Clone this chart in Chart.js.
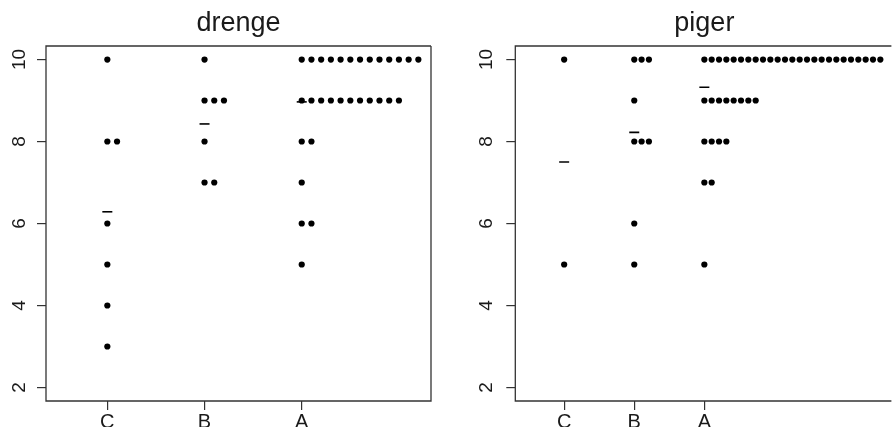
<!DOCTYPE html>
<html>
<head>
<meta charset="utf-8">
<script src="https://cdn.jsdelivr.net/npm/chart.js@4/dist/chart.umd.min.js"></script>
<style>
  html, body { margin: 0; padding: 0; background: #fff; overflow: hidden; width: 893px; height: 427px; }
  canvas { position: absolute; top: 0; }
  #c1 { left: 0; }
  #c2 { left: 450px; }
</style>
</head>
<body>
<canvas id="c1" width="450" height="427"></canvas>
<canvas id="c2" width="443" height="427"></canvas>
<script>
// ---- data ----
const categories = ['C', 'B', 'A'];
const yTicks = [2, 4, 6, 8, 10];
const panelTitles = ['drenge', 'piger'];

const drengeC = [10, 8, 8, 6, 5, 4, 3];
const drengeB = [10, 9, 9, 9, 8, 7, 7];
const drengeA = [10, 10, 10, 10, 10, 10, 10, 10, 10, 10, 10, 10, 10,
                 9, 9, 9, 9, 9, 9, 9, 9, 9, 9, 9,
                 8, 8, 7, 6, 6, 5];

const pigerC = [10, 5];
const pigerB = [10, 10, 10, 9, 8, 8, 8, 6, 5];
const pigerA = [10, 10, 10, 10, 10, 10, 10, 10, 10, 10, 10, 10, 10, 10, 10, 10, 10, 10, 10, 10, 10, 10, 10, 10, 10,
                9, 9, 9, 9, 9, 9, 9, 9,
                8, 8, 8, 8, 7, 7, 5];

// ---- helpers ----
function stackPoints(groups, step) {
  const pts = [];
  groups.forEach((vals, gi) => {
    const seen = {};
    vals.forEach(v => {
      const k = seen[v] || 0;
      seen[v] = k + 1;
      pts.push({ x: gi + 1 + k * step, y: v });
    });
  });
  return pts;
}
function meanPoints(groups) {
  return groups.map((vals, gi) => ({ x: gi + 1, y: vals.reduce((a, b) => a + b, 0) / vals.length }));
}

const FONT = "'Liberation Sans', Arial, Helvetica, sans-serif";
const INK = '#1a1a1a';

function makeChart(canvasId, title, groups, opts) {
  const framePlugin = {
    id: 'frame',
    afterDraw(chart) {
      const ctx = chart.ctx;
      const a = chart.chartArea;
      ctx.save();
      ctx.strokeStyle = '#333';
      ctx.lineWidth = 1.3;
      ctx.beginPath();
      ctx.moveTo(a.right + (opts.openRight ? 5 : 0), a.top);
      ctx.lineTo(a.left, a.top);
      ctx.lineTo(a.left, a.bottom);
      ctx.lineTo(a.right + (opts.openRight ? 5 : 0), a.bottom);
      if (!opts.openRight) ctx.lineTo(a.right, a.top);
      ctx.stroke();
      // title
      ctx.fillStyle = INK;
      ctx.font = '27px ' + FONT;
      ctx.textAlign = 'center';
      ctx.textBaseline = 'alphabetic';
      ctx.fillText(title, opts.titleX(a), 31);
      // rotated y tick labels (R style)
      const ys = chart.scales.y;
      ctx.font = '19px ' + FONT;
      ctx.textBaseline = 'middle';
      yTicks.forEach(v => {
        ctx.save();
        ctx.translate(a.left - opts.yLabelGap, ys.getPixelForValue(v));
        ctx.rotate(-Math.PI / 2);
        ctx.fillText(String(v), 0, 0);
        ctx.restore();
      });
      ctx.restore();
    }
  };

  return new Chart(document.getElementById(canvasId), {
    type: 'scatter',
    data: {
      datasets: [
        {
          label: 'gennemsnit',
          data: meanPoints(groups),
          pointStyle: 'line',
          pointRadius: 5,
          borderWidth: 1.6,
          borderColor: '#000',
          backgroundColor: '#000'
        },
        {
          label: 'point',
          data: stackPoints(groups, opts.step),
          pointStyle: 'circle',
          pointRadius: 3.1,
          borderWidth: 0,
          backgroundColor: '#000'
        }
      ]
    },
    options: {
      responsive: false,
      animation: false,
      devicePixelRatio: 1,
      layout: { padding: { top: 46, left: 0, right: opts.padRight, bottom: 0 } },
      plugins: { legend: { display: false }, tooltip: { enabled: false }, title: { display: false } },
      scales: {
        x: {
          type: 'linear',
          min: opts.xMin,
          max: opts.xMax,
          afterFit: s => { s.height = 26; },
          afterBuildTicks: s => { s.ticks = categories.map((c, i) => ({ value: i + 1 })); },
          ticks: {
            callback: v => categories[v - 1],
            color: INK,
            font: { family: FONT, size: 20 },
            padding: 0,
            maxRotation: 0,
            minRotation: 0,
            autoSkip: false
          },
          grid: { drawOnChartArea: false, drawTicks: true, tickLength: 9, color: '#333', lineWidth: 1.2 },
          border: { display: false }
        },
        y: {
          type: 'linear',
          min: 1.67,
          max: 10.33,
          afterFit: s => { s.width = opts.yWidth; },
          afterBuildTicks: s => { s.ticks = yTicks.map(v => ({ value: v })); },
          ticks: { color: 'rgba(0,0,0,0)', font: { family: FONT, size: 19 } },
          grid: { drawOnChartArea: false, drawTicks: true, tickLength: 9, color: '#333', lineWidth: 1.2 },
          border: { display: false }
        }
      }
    },
    plugins: [framePlugin]
  });
}

makeChart('c1', panelTitles[0], [drengeC, drengeB, drengeA],
  { step: 0.1, xMin: 0.369, xMax: 4.33, yWidth: 46, padRight: 19, yLabelGap: 26, openRight: false,
    titleX: a => (a.left + a.right) / 2 });
makeChart('c2', panelTitles[1], [pigerC, pigerB, pigerA],
  { step: 0.1046, xMin: 0.303, xMax: 5.597, yWidth: 65.3, padRight: 0, yLabelGap: 29, openRight: true,
    titleX: a => (a.left + a.right + 7) / 2 });
</script>
</body>
</html>
